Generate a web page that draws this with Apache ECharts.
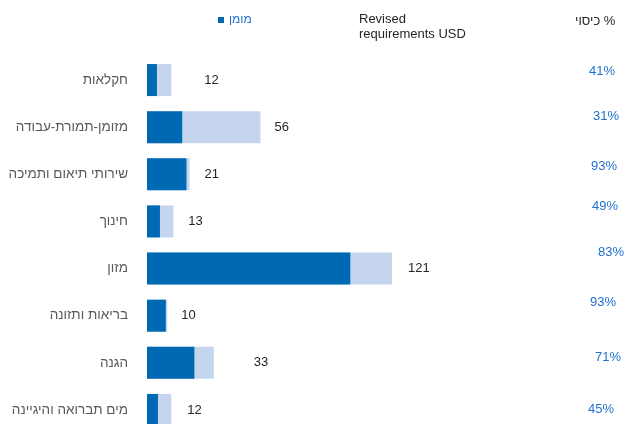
<!DOCTYPE html>
<html>
<head>
<meta charset="utf-8">
<script src="https://cdn.jsdelivr.net/npm/echarts@6/dist/echarts.min.js"></script>
<style>
  html, body { margin: 0; padding: 0; background: #fff; }
  #chart { width: 626px; height: 424px; }
</style>
</head>
<body>
<div id="chart"></div>
<script>
// קטגוריות (מלמעלה למטה)
var sectors = ['חקלאות', 'מזומן-תמורת-עבודה', 'שירותי תיאום ותמיכה', 'חינוך', 'מזון', 'בריאות ותזונה', 'הגנה', 'מים תברואה והיגיינה'];
// דרישות מעודכנות (מיליון דולר)
var required = [12, 56, 21, 13, 121, 10, 33, 12];
// סכום שמומן
var funded = [4.9, 17.4, 19.5, 6.4, 100.4, 9.3, 23.4, 5.4];
// אחוז כיסוי
var coverage = ['41%', '31%', '93%', '49%', '83%', '93%', '71%', '45%'];

// כיוונון קטן של מיקום התוויות כמו במקור
var totalLabelGap = [33, 14, 15, 15, 16, 14, 40, 16];
var pctShiftUp = [9, 11, 8, 15, 16, 13, 5, 1];
var pctShiftRight = [1, 5, 3, 4, 10, 2, 7, 0];

var font = 'Arial, "Liberation Sans", "DejaVu Sans", sans-serif';
var darkBlue = '#0069b4';
var lightBlue = '#c6d5ee';
var textBlue = '#1f70d0';

var chart = echarts.init(document.getElementById('chart'));

var totalData = required.map(function (v, i) {
    return { value: v, label: { distance: totalLabelGap[i] } };
});
var pctData = coverage.map(function (p, i) {
    return [0, i];
});

//תוויות אחוז הכיסוי בצד ימין
function renderPct(params, api) {
    var i = params.dataIndex;
    var pt = api.coord([api.value(0), api.value(1)]);
    var right = params.coordSys.x + params.coordSys.width;
    return {
        type: 'text',
        x: right + 36 + pctShiftRight[i],
        y: pt[1] - pctShiftUp[i],
        style: {
            text: coverage[i],
            fill: textBlue,
            font: '13px ' + font,
            align: 'left',
            verticalAlign: 'middle'
        }
    };
}

var option = {
    animation: false,
    textStyle: { fontFamily: font },
    title: [{
        text: 'Revised\nrequirements USD',
        left: 359,
        top: 12,
        padding: 0,
        textStyle: { fontSize: 13, fontWeight: 'normal', color: '#262626', lineHeight: 15, fontFamily: font }
    }, {
        text: 'כיסוי %',
        left: 575,
        top: 15,
        padding: 0,
        textStyle: { fontSize: 13, fontWeight: 'normal', color: '#262626', fontFamily: font }
    }],
    legend: {
        data: ['מומן'],
        left: 218,
        top: 14,
        padding: 0,
        align: 'left',
        icon: 'rect',
        itemWidth: 6,
        itemHeight: 6,
        textStyle: { color: textBlue, fontSize: 12, fontFamily: font }
    },
    grid: {
        left: 147,
        top: 56.5,
        width: 405,
        height: 377,
        outerBoundsMode: 'none'
    },
    xAxis: {
        type: 'value',
        min: 0,
        max: 200,
        show: false
    },
    yAxis: {
        type: 'category',
        data: sectors,
        inverse: true,
        axisLine: { show: false },
        axisTick: { show: false },
        axisLabel: { margin: 19, color: '#595959', fontSize: 13.5, fontFamily: font }
    },
    series: [{
        name: 'Revised requirements',
        type: 'bar',
        data: totalData,
        barWidth: 32,
        barGap: '-100%',
        itemStyle: { color: lightBlue },
        label: {
            show: true,
            position: 'right',
            color: '#262626',
            fontSize: 13,
            fontFamily: font
        }
    }, {
        name: 'מומן',
        type: 'bar',
        data: funded,
        barWidth: 32,
        barGap: '-100%',
        itemStyle: { color: darkBlue }
    }, {
        name: 'כיסוי',
        type: 'custom',
        data: pctData,
        renderItem: renderPct,
        silent: true
    }]
};
chart.setOption(option);
</script>
</body>
</html>
